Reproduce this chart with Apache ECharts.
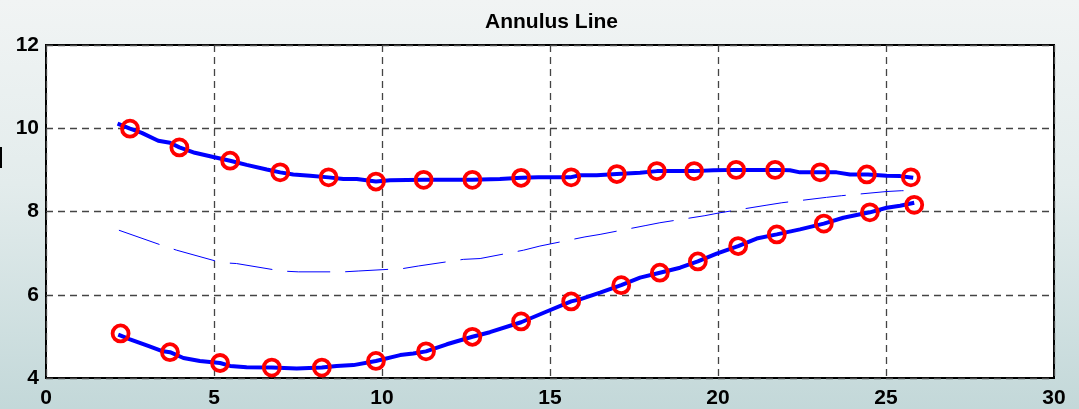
<!DOCTYPE html>
<html>
<head>
<meta charset="utf-8">
<script src="https://cdn.jsdelivr.net/npm/echarts@6/dist/echarts.min.js"></script>
<style>
html,body{margin:0;padding:0;}
body{width:1079px;height:409px;background:linear-gradient(to bottom,#f1f4f4 0%,#e3ecec 45%,#c3d8d9 100%);}
#c{width:1079px;height:409px;}
</style>
</head>
<body>
<div id="c"></div>
<script>
const titleText = 'Annulus Line';
const xTicks = [0, 5, 10, 15, 20, 25, 30];
const yTicks = [4, 6, 8, 10, 12];

// upper thick blue curve (x, y)
const upperLineX = [2.13, 2.50, 2.85, 3.34, 3.69, 3.97, 4.43, 4.98, 5.48, 5.97, 6.57, 6.97, 7.36, 7.86, 8.41, 8.85, 9.25, 9.82, 10.24, 11.24, 12.68, 13.51, 14.14, 14.65, 15.60, 15.89, 16.39, 16.99, 17.68, 18.18, 19.29, 19.86, 20.54, 21.05, 21.70, 22.14, 22.44, 23.04, 23.53, 23.93, 24.46, 25.02, 25.42, 25.81];
const upperLineY = [10.11, 9.99, 9.89, 9.70, 9.65, 9.54, 9.41, 9.31, 9.22, 9.12, 9.01, 8.94, 8.89, 8.86, 8.82, 8.78, 8.78, 8.72, 8.75, 8.76, 8.76, 8.78, 8.81, 8.82, 8.82, 8.87, 8.87, 8.90, 8.93, 8.97, 8.97, 8.99, 9.00, 9.00, 9.00, 8.99, 8.94, 8.94, 8.94, 8.89, 8.89, 8.86, 8.85, 8.81];

// lower thick blue curve
const lowerLineX = [2.15, 2.50, 3.04, 3.44, 3.69, 4.09, 4.58, 5.18, 5.48, 5.97, 6.72, 7.46, 8.21, 8.65, 9.15, 9.82, 10.54, 10.93, 11.31, 11.93, 12.69, 13.21, 14.14, 14.85, 15.63, 15.89, 16.49, 17.12, 17.68, 18.27, 18.87, 19.40, 19.96, 20.60, 21.15, 21.75, 22.44, 23.15, 23.73, 24.52, 25.02, 25.42, 25.84];
const lowerLineY = [5.04, 4.93, 4.77, 4.65, 4.62, 4.48, 4.41, 4.36, 4.29, 4.26, 4.25, 4.23, 4.25, 4.29, 4.31, 4.41, 4.55, 4.59, 4.64, 4.81, 4.99, 5.10, 5.34, 5.58, 5.84, 5.89, 6.05, 6.23, 6.41, 6.53, 6.65, 6.80, 6.99, 7.17, 7.35, 7.45, 7.57, 7.71, 7.85, 7.98, 8.09, 8.14, 8.21];

// thin dashed middle curve
const midLineX = [2.17, 3.44, 3.89, 5.23, 5.67, 7.01, 7.51, 8.85, 9.29, 10.63, 11.08, 12.42, 12.92, 14.21, 14.70, 16.04, 16.49, 17.83, 18.27, 19.61, 20.06, 21.43, 21.90, 23.23, 23.68, 25.02, 25.47, 25.81];
const midLineY = [7.55, 7.19, 7.07, 6.77, 6.75, 6.57, 6.55, 6.55, 6.57, 6.63, 6.69, 6.85, 6.87, 7.07, 7.17, 7.39, 7.45, 7.66, 7.73, 7.90, 7.97, 8.15, 8.21, 8.34, 8.38, 8.48, 8.50, 8.50];

// red circle markers
const upperMarkX = [2.50, 3.97, 5.48, 6.97, 8.41, 9.82, 11.24, 12.69, 14.14, 15.63, 16.99, 18.18, 19.29, 20.54, 21.70, 23.04, 24.43, 25.74];
const upperMarkY = [9.99, 9.54, 9.22, 8.94, 8.82, 8.72, 8.76, 8.76, 8.81, 8.82, 8.90, 8.97, 8.97, 9.00, 9.00, 8.94, 8.89, 8.82];
const lowerMarkX = [2.22, 3.69, 5.18, 6.72, 8.21, 9.82, 11.31, 12.69, 14.14, 15.63, 17.12, 18.27, 19.40, 20.60, 21.75, 23.15, 24.52, 25.84];
const lowerMarkY = [5.07, 4.62, 4.36, 4.25, 4.25, 4.41, 4.64, 4.99, 5.36, 5.84, 6.23, 6.53, 6.80, 7.17, 7.45, 7.71, 7.98, 8.16];

const zip = (xs, ys) => xs.map((x, i) => [x, ys[i]]);

const chart = echarts.init(document.getElementById('c'), null, {renderer: 'canvas'});
const labelFont = {fontFamily: 'Liberation Sans, Arial, sans-serif', fontWeight: 'bold', fontSize: 21, color: '#000'};
const redMarker = {
  type: 'scatter', symbol: 'circle', symbolSize: 16,
  itemStyle: {color: 'rgba(0,0,0,0)', borderColor: '#ff0000', borderWidth: 3.8, opacity: 1},
  emphasis: {disabled: true},
  z: 5, silent: true
};
const option = {
  animation: false,
  backgroundColor: 'transparent',
  title: {
    text: titleText, left: 480, top: 7,
    textStyle: {fontFamily: 'Liberation Sans, Arial, sans-serif', fontWeight: 'bold', fontSize: 21, color: '#000'}
  },
  grid: {left: 46, top: 45, right: 25, bottom: 30, show: true, backgroundColor: '#fff', borderColor: '#000', borderWidth: 2, containLabel: false},
  xAxis: {
    type: 'value', min: xTicks[0], max: xTicks[xTicks.length - 1], interval: 5,
    axisLine: {show: false}, axisTick: {show: false},
    axisLabel: Object.assign({margin: 10}, labelFont),
    splitLine: {show: true, lineStyle: {color: '#444', type: [7, 5], width: 1.3}}
  },
  yAxis: {
    type: 'value', min: yTicks[0], max: yTicks[yTicks.length - 1], interval: 2,
    axisLine: {show: false}, axisTick: {show: false},
    axisLabel: Object.assign({margin: 7}, labelFont),
    splitLine: {show: true, lineStyle: {color: '#444', type: [7, 5], width: 1.3}}
  },
  graphic: [{type: 'rect', left: 0, top: 147, shape: {width: 2, height: 21}, style: {fill: '#000'}}],
  series: [
    {type: 'line', data: zip(midLineX, midLineY), showSymbol: false, symbol: 'none',
     lineStyle: {color: '#0000ff', width: 1, type: [43, 15]}, z: 3},
    {type: 'line', data: zip(upperLineX, upperLineY), showSymbol: false, symbol: 'none',
     lineStyle: {color: '#0000ff', width: 4}, z: 4},
    {type: 'line', data: zip(lowerLineX, lowerLineY), showSymbol: false, symbol: 'none',
     lineStyle: {color: '#0000ff', width: 4}, z: 4},
    Object.assign({data: zip(upperMarkX, upperMarkY)}, redMarker),
    Object.assign({data: zip(lowerMarkX, lowerMarkY)}, redMarker)
  ]
};
chart.setOption(option);
</script>
</body>
</html>
